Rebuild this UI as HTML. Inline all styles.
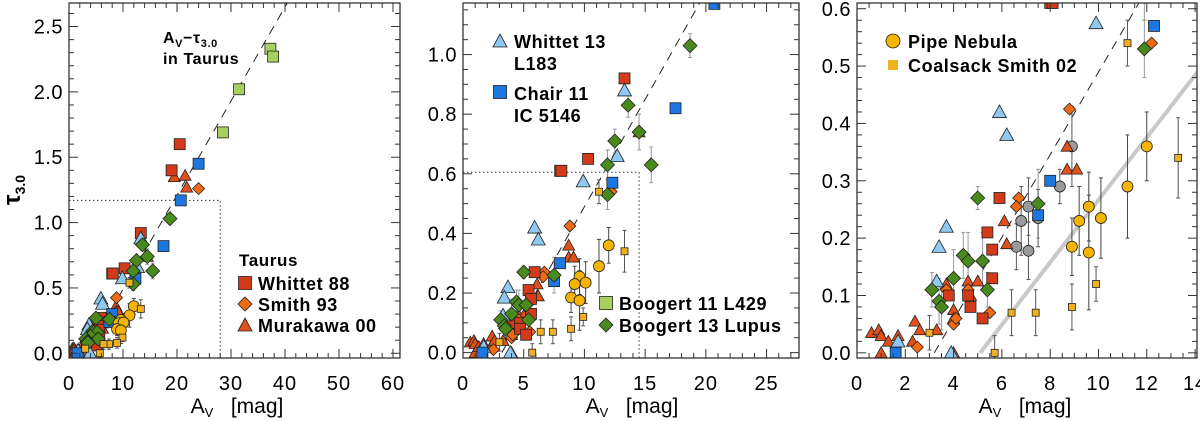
<!DOCTYPE html>
<html><head><meta charset="utf-8"><style>
body{margin:0;background:#fff;}
svg{display:block;font-family:"Liberation Sans","DejaVu Sans",sans-serif;}
text{fill:#000;}
</style></head><body>
<svg id="chart" width="1200" height="421" viewBox="0 0 1200 421" xmlns="http://www.w3.org/2000/svg">
</svg>
<script>
// ---- data (Av [mag], tau3.0) ----
const whittet88X=[8,10.3,13.3,19,20.5,5.9,5.4,5.6,5.6,4.6,4.7,3.8,5.2,8.1];
const whittet88Y=[0.61,0.65,0.92,1.4,1.6,0.27,0.21,0.18,0.13,0.10,0.08,0.10,0.06,0.61];
const smith93X=[24,8.8,12.2,6.7,6.6,5.5,4.0,2.5,3.7,4.6,4.1];
const smith93Y=[1.26,0.425,0.54,0.27,0.255,0.07,0.05,0.01,0.11,0.11,0.06];
const murakawaX=[19.5,21.5,21.8,14.5,8.7,8.7,9.1,6.1,6.2,4.0,0.6,0.9,1.0,1.0,1.3,1.7,2.3,2.4,2.6,3.3,3.7,4.0,4.6,5.0,4.7,4.0];
const murakawaY=[1.35,1.36,1.27,0.74,0.36,0.32,0.32,0.23,0.19,0.0,0.035,0.04,0.03,0.0,0.02,0.03,0.02,0.055,0.04,0.04,0.12,0.075,0.125,0.125,0.10,0.06];
const whittet13X=[13.3,12.7,9.9,5.9,6.2,3.7,3.4,3.3,1.7,3.9];
const whittet13Y=[0.88,0.66,0.575,0.42,0.38,0.22,0.185,0.125,0.02,0.0];
const chairX=[20.7,24,17.5,12.3,8,7.5,1.6];
const chairY=[1.17,1.45,0.82,0.57,0.30,0.24,0.0];
const boog11X=[37.3,37.8,31.5,28.5];
const boog11Y=[2.33,2.27,2.02,1.69];
const boog13X=[18.7,13.6,14.5,12.5,11.9,15.5,11.9,5.0,7.5,4.4,4.6,5.2,4.0,5.4,3.1,3.4,3.5];
const boog13Y=[1.03,0.83,0.74,0.71,0.63,0.63,0.53,0.27,0.26,0.17,0.16,0.16,0.13,0.11,0.11,0.09,0.08];
const boog13Err=[0.04,0.04,0.06,0.04,0.05,0.06,0.05,0.02,0.06,0.04,0.05,0.05,0.05,0.03,0.03,0.04,0.04];
const greyX=[8.9,8.4,7.1,6.8,7.5,6.6,7.1];
const greyY=[0.36,0.29,0.255,0.23,0.235,0.185,0.178];
const greyErr=[0.07,0.03,0.05,0.06,0.05,0.04,0.05];
const pipeX=[12,11.2,9.6,9.2,10.1,8.9,9.6];
const pipeY=[0.36,0.29,0.255,0.23,0.235,0.185,0.175];
const pipeErr=[0.06,0.09,0.06,0.06,0.07,0.05,0.1];
const coalX=[11.2,13.3,9.9,8.9,7.4,6.4,3.0,5.7];
const coalY=[0.54,0.34,0.12,0.08,0.07,0.07,0.035,0.0];
const coalErr=[0.04,0.07,0.03,0.04,0.04,0.04,0.03,0.03];
const fitDash=[3.2,0.072];   // tau = slope*(Av-x0)
const fitGrey=[5.1,0.0544];

const NS="http://www.w3.org/2000/svg";
const svg=document.getElementById('chart');
function mk(tag,attrs,parent){const e=document.createElementNS(NS,tag);for(const k in attrs)e.setAttribute(k,attrs[k]);(parent||svg).appendChild(e);return e;}

const panels=[
 {id:'p1',L:69,R:400,T:3,B:358,x0:0,x1:61.3,y0:-0.036,y1:2.68,xMaj:10,xMin:2,yMaj:0.5,yMin:0.1,yDec:1,xt:[0,10,20,30,40,50,60],title:237,rect:[28,1.17]},
 {id:'p2',L:463,R:799,T:3,B:358,x0:0,x1:27.67,y0:-0.018,y1:1.173,xMaj:5,xMin:1,yMaj:0.2,yMin:0.05,yDec:1,xt:[0,5,10,15,20,25],title:632,rect:[14.5,0.605]},
 {id:'p3',L:857,R:1197,T:3,B:358,x0:0,x1:14.08,y0:-0.009,y1:0.61,xMaj:2,xMin:0.5,yMaj:0.1,yMin:0.02,yDec:1,xt:[0,2,4,6,8,10,12,14],title:1025,rect:null,grey:true}
];

function sq(g,cx,cy,s,fill,sw){return mk('rect',{x:cx-s/2,y:cy-s/2,width:s,height:s,fill:fill,stroke:'#222','stroke-width':sw||0.8},g);}
function dia(g,cx,cy,s,fill){return mk('polygon',{points:`${cx},${cy-s} ${cx+s},${cy} ${cx},${cy+s} ${cx-s},${cy}`,fill:fill,stroke:'#222','stroke-width':0.8},g);}
function tri(g,cx,cy,s,fill){return mk('polygon',{points:`${cx},${cy-s} ${cx+s},${cy+s*0.8} ${cx-s},${cy+s*0.8}`,fill:fill,stroke:'#222','stroke-width':0.8},g);}
function circ(g,cx,cy,r,fill){return mk('circle',{cx:cx,cy:cy,r:r,fill:fill,stroke:'#222','stroke-width':0.8},g);}

panels.forEach((p,pi)=>{
  const sx=v=>p.L+(v-p.x0)/(p.x1-p.x0)*(p.R-p.L);
  const sy=v=>p.B-(v-p.y0)/(p.y1-p.y0)*(p.B-p.T);
  const defs=mk('defs',{});
  const cp=mk('clipPath',{id:'clip'+pi},defs);
  mk('rect',{x:p.L,y:p.T,width:p.R-p.L,height:p.B-p.T},cp);
  const g=mk('g',{'clip-path':`url(#clip${pi})`});
  
  

  if(p.rect){
    const r=mk('path',{d:`M${p.L},${sy(p.rect[1])} H${sx(p.rect[0])} V${p.B}`,fill:'none',stroke:'#333','stroke-width':1,'stroke-dasharray':'1.5,2.5'},g);
    
    
  }
  if(p.grey){
    const gl=mk('line',{x1:sx(fitGrey[0]),y1:sy(0),x2:sx(15),y2:sy(fitGrey[1]*(15-fitGrey[0])),stroke:'#c8c8c8','stroke-width':4},g);
    
    
  }
  const xa=fitDash[0], xb=45;
  const dl=mk('line',{x1:sx(xa),y1:sy(0),x2:sx(xb),y2:sy(fitDash[1]*(xb-xa)),stroke:'#222','stroke-width':1,'stroke-dasharray':'9,7'},g);
  
  

  function err(X,Y,E,col){X.forEach((x,i)=>{const e=E[i];
    mk('line',{x1:sx(x),y1:sy(Y[i]-e),x2:sx(x),y2:sy(Y[i]+e),stroke:col||'#777','stroke-width':1},g);
    mk('line',{x1:sx(x)-2,y1:sy(Y[i]+e),x2:sx(x)+2,y2:sy(Y[i]+e),stroke:col||'#777','stroke-width':1},g);
    mk('line',{x1:sx(x)-2,y1:sy(Y[i]-e),x2:sx(x)+2,y2:sy(Y[i]-e),stroke:col||'#777','stroke-width':1},g);});}
  err(pipeX,pipeY,pipeErr,'#444'); err(coalX,coalY,coalErr,'#555'); err(boog13X,boog13Y,boog13Err,'#999');
  if(p.grey) err(greyX,greyY,greyErr,'#555');

  const series=[
   [boog11X,boog11Y,'sq','#a8d060',11,'boogert11'],
   [murakawaX,murakawaY,'tr','#e2501a',6,'murakawa00'],
   [smith93X,smith93Y,'di','#f26a14',6,'smith93'],
   [whittet88X,whittet88Y,'sq','#d23a1a',11,'whittet88'],
   [whittet13X,whittet13Y,'tr','#8fc8f0',7,'whittet13'],
   [chairX,chairY,'sq','#1c78e0',11,'chair11'],
   [boog13X,boog13Y,'di','#4a8a1c',7,'boogert13'],
   [pipeX,pipeY,'ci','#f5b400',5.5,'pipe'],
   [coalX,coalY,'sq','#f0b020',7,'coalsack']
  ];
  if(p.grey) series.splice(1,0,[greyX,greyY,'ci','#9a9a9a',5.5,'grey-point']);
  series.forEach(s=>{
    s[0].forEach((x,i)=>{
      const cx=sx(x),cy=sy(s[1][i]);let e;
      if(s[2]==='sq')e=sq(g,cx,cy,s[4],s[3]);
      else if(s[2]==='di')e=dia(g,cx,cy,s[4],s[3]);
      else if(s[2]==='tr')e=tri(g,cx,cy,s[4],s[3]);
      else e=circ(g,cx,cy,s[4],s[3]);
      
      
    });
  });

  const fr=mk('rect',{x:p.L,y:p.T,width:p.R-p.L,height:p.B-p.T,fill:'none',stroke:'#222','stroke-width':1.2});
  
  
  const tg=mk('g',{stroke:'#333','stroke-width':1});
  
  
  for(let v=0;v<=p.x1+1e-9;v+=p.xMin){
    const maj=Math.abs(v/p.xMaj-Math.round(v/p.xMaj))<1e-6, l=maj?9:5, x=sx(v);
    mk('line',{x1:x,y1:p.B,x2:x,y2:p.B-l},tg);mk('line',{x1:x,y1:p.T,x2:x,y2:p.T+l},tg);
  }
  for(let v=0;v<=p.y1+1e-9;v+=p.yMin){
    const maj=Math.abs(v/p.yMaj-Math.round(v/p.yMaj))<1e-6, l=maj?9:5, y=sy(v);
    mk('line',{x1:p.L,y1:y,x2:p.L+l,y2:y},tg);mk('line',{x1:p.R,y1:y,x2:p.R-l,y2:y},tg);
  }
  p.xt.forEach(v=>{const t=mk('text',{x:sx(v),y:390,'font-size':20,'text-anchor':'middle','letter-spacing':1});t.textContent=v;
    });
  for(let v=0;v<=p.y1+1e-9;v+=p.yMaj){const t=mk('text',{x:p.L-6,y:sy(v)+7,'font-size':20,'text-anchor':'end','letter-spacing':0.5});t.textContent=v.toFixed(p.yDec);
    }
  const xt=mk('text',{x:p.title,y:413,'font-size':21,'text-anchor':'middle'});
  xt.innerHTML='A<tspan font-size="13" dy="4">V</tspan><tspan dy="-4">\u00a0\u00a0\u00a0[mag]</tspan>';
  
  
});
</script>
<script>
(function(){
const NS="http://www.w3.org/2000/svg";const svg=document.getElementById('chart');
function mk(tag,attrs){const e=document.createElementNS(NS,tag);for(const k in attrs)e.setAttribute(k,attrs[k]);svg.appendChild(e);return e;}
function txt(x,y,s,fs,name){const t=mk('text',{x:x,y:y,'font-size':fs||18,'font-weight':'bold','letter-spacing':0.6});t.innerHTML=s;
  
  return t;}
const yt=mk('text',{x:0,y:0,'font-size':24,'font-weight':'bold',transform:'translate(20,190) rotate(-90)','text-anchor':'middle'});
yt.innerHTML='τ<tspan font-size="14" dy="5">3.0</tspan>';


txt(163,43,'A<tspan font-size="11" dy="4">V</tspan><tspan dy="-4">−τ</tspan><tspan font-size="11" dy="4">3.0</tspan>',16,'annotation-title');
txt(163,64,'in Taurus',16,'annotation-subtitle');
txt(239,266,'Taurus',17,'legend-title-taurus');
function L(shape,cx,cy,fill,label,tx,ty,name){let e;
  if(shape==='sq')e=mk('rect',{x:cx-6.5,y:cy-6.5,width:13,height:13,fill:fill,stroke:'#222','stroke-width':0.8});
  else if(shape==='sqs')e=mk('rect',{x:cx-5,y:cy-5,width:10,height:10,fill:fill,stroke:'none'});
  else if(shape==='di')e=mk('polygon',{points:`${cx},${cy-7} ${cx+7},${cy} ${cx},${cy+7} ${cx-7},${cy}`,fill:fill,stroke:'#222','stroke-width':0.8});
  else if(shape==='tr')e=mk('polygon',{points:`${cx},${cy-7} ${cx+7},${cy+6} ${cx-7},${cy+6}`,fill:fill,stroke:'#222','stroke-width':0.8});
  else e=mk('circle',{cx:cx,cy:cy,r:7,fill:fill,stroke:'#222','stroke-width':0.8});
  
  
  txt(tx,ty,label,18,name+'-label');}
L('sq',245,283,'#d23a1a','Whittet 88',258,290,'legend-whittet88');
L('di',245,304,'#f26a14','Smith 93',258,311,'legend-smith93');
L('tr',245,325,'#e2501a','Murakawa 00',258,332,'legend-murakawa00');
L('tr',500,41,'#8fc8f0','Whittet 13',514,48,'legend-whittet13');
txt(514,70,'L183',18,'legend-whittet13-region');
L('sq',500,92,'#1c78e0','Chair 11',514,100,'legend-chair11');
txt(514,122,'IC 5146',18,'legend-chair11-region');
L('sq',606,303,'#a8d060','Boogert 11 L429',619,310,'legend-boogert11');
L('di',606,325,'#4a8a1c','Boogert 13 Lupus',619,332,'legend-boogert13');
L('ci',893,41,'#f5b400','Pipe Nebula',908,48,'legend-pipe');
L('sqs',893,65,'#f0b020','Coalsack Smith 02',908,72,'legend-coalsack');
})();
</script>
</body></html>
